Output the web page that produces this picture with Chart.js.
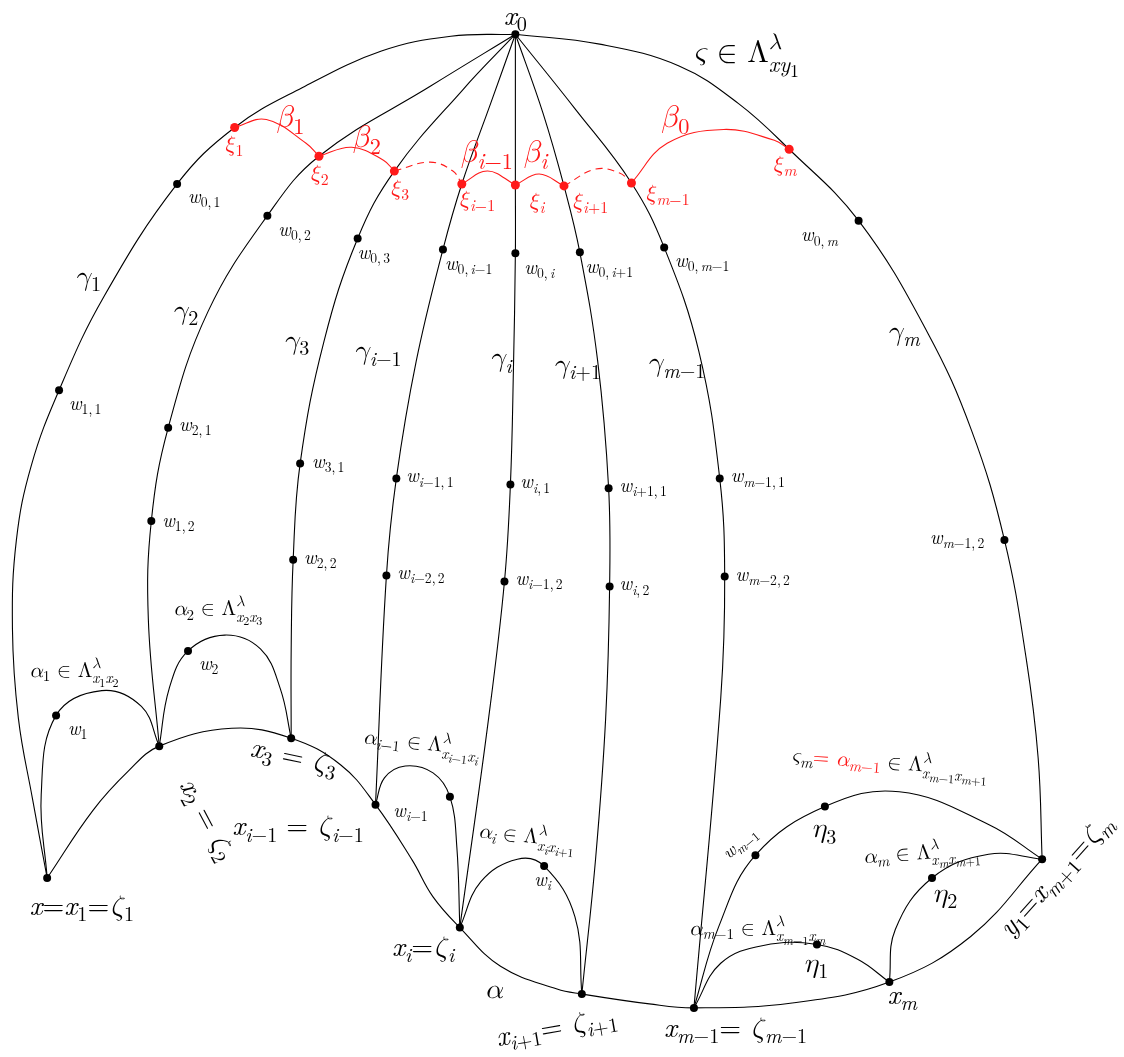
<!DOCTYPE html>
<html>
<head>
<meta charset="utf-8">
<script src="https://cdn.jsdelivr.net/npm/chart.js@4/dist/chart.umd.min.js"></script>
<style>
  html, body { margin: 0; padding: 0; background: #fff; }
  #wrap { width: 1124px; height: 1057px; }
</style>
</head>
<body>
<div id="wrap"><canvas id="diagram" width="1124" height="1057"></canvas></div>
<script>
// all coordinates are in picture units (x to the right, y downward)

// curves from x0 down to the bottom path
const gamma1 = [[43,881],[28,800],[14,720],[8,629],[12,540],[27,465],[55,389],[100,295],[174,181],[232,124],[300,84],[380,47],[450,32],[515,30]];
const gamma2 = [[515,30],[430,82],[317,153],[265,213],[205,310],[165,427],[148,521],[145,620],[156,748]];
const gamma3 = [[515,30],[462,86],[393,168],[356,236],[322,340],[298,463],[291,560],[289,650],[289,740]];
const gammaIm1 = [[515,30],[490,100],[461,181],[442,247],[415,360],[395,478],[385,576],[374,807]];
const gammaI = [[515,30],[515,182],[515,251],[513,370],[510,484],[504,582],[488,720],[459,931]];
const gammaIp1 = [[515,30],[543,110],[564,183],[580,250],[598,360],[609,488],[610,587],[606,720],[596,860],[582,998]];
const gammaMm1 = [[515,30],[575,105],[632,180],[665,245],[700,350],[721,478],[726,577],[722,700],[695,1012]];
const gammaM = [[515,30],[600,40],[680,62],[740,100],[791,146],[861,218],[930,330],[975,430],[1008,540],[1030,660],[1042,760],[1046,862]];

// bottom path alpha
const alphaPath = [[43,881],[89,813],[125,773],[156,748],[229,730],[289,740],[339,767],[374,807],[411,863],[432,900],[459,931],[500,970],[557,993],[582,998],[650,1008],[695,1012],[794,1007],[892,986],[974,940],[1046,862]];

// loops
const alpha1 = [[43,881],[37,797],[52,717],[98,692],[138,708],[156,748]];
const alpha2 = [[156,748],[166,690],[185,652],[222,636],[258,650],[278,690],[289,740]];
const alphaIm1 = [[374,807],[383,780],[404,768],[432,775],[449,799],[456,850],[459,931]];
const alphaI = [[459,931],[480,885],[517,862],[544,869],[575,920],[582,998]];
const alphaMm1 = [[695,1012],[722,967],[765,949],[819,948],[860,963],[892,986]];
const alphaM = [[892,986],[898,933],[935,881],[992,857],[1046,862]];
const varsigmaM = [[695,1012],[720,930],[757,858],[827,809],[902,794],[992,827],[1046,862]];

// red arcs beta
const beta1 = [[232,124],[264,116],[304,140],[317,153]];
const beta2 = [[317,153],[350,144],[382,157],[393,168]];
const betaDash1 = [[393,168],[429,159],[452,168],[461,181]];
const betaIm1 = [[461,181],[487,168],[515,182]];
const betaI = [[515,182],[539,171],[564,183]];
const betaDash2 = [[564,183],[596,166],[620,170],[632,180]];
const beta0 = [[632,180],[668,140],[725,126],[776,137],[791,146]];

// marked points
const blackDots = [[515,30],[43,881],[156,748],[289,740],[374,807],[459,931],[582,998],[695,1012],[892,986],[1046,862],
  [52,717],[185,652],[449,799],[544,869],[757,858],[827,809],[935,881],[819,948],
  [174,181],[55,389],[265,213],[165,427],[148,521],[356,236],[298,463],[291,560],
  [442,247],[395,478],[385,576],[515,251],[510,484],[504,582],[580,250],[609,488],[610,587],
  [665,245],[721,478],[726,577],[861,218],[1008,540]];
const redDots = [[232,124],[317,153],[393,168],[461,181],[515,182],[564,183],[632,180],[791,146]];

// labels: [text, x, y]   (§ toggles red)
const titleLabel = [["ς ∈ Λ^{λ}_{xy_1}",747,58]];
const bigLabels = [["x_0",515,21],["x=x_1=ζ_1",78,918],["x_2 = ζ_2",197,826],["x_3 = ζ_3",290,767],
  ["x_{i−1} = ζ_{i−1}",296,838],["x_i=ζ_i",422,960],["x_{i+1}= ζ_{i+1}",558,1040],["x_{m−1}= ζ_{m−1}",737,1041],
  ["x_m",905,1008],["y_1=x_{m+1}=ζ_m",1066,884],["α",493,1002],["η_1",818,976],["η_2",948,905],["η_3",826,840]];
const gammaLabels = [["γ_1",84,283],["γ_2",182,317],["γ_3",294,347],["γ_{i−1}",376,358],["γ_i",500,365],
  ["γ_{i+1}",577,372],["γ_{m−1}",677,370],["γ_m",906,338]];
const betaLabels = [["β_1",288,124],["β_2",365,144],["β_{i−1}",486,159],["β_i",535,159],["β_0",676,124]];
const xiLabels = [["ξ_1",231,148],["ξ_2",317,177],["ξ_3",398,192],["ξ_{i−1}",476,203],["ξ_i",536,205],
  ["ξ_{i+1}",590,205],["ξ_{m−1}",668,197],["ξ_m",786,168]];
const wLabels = [["w_{0,1}",185,200],["w_{0,2}",276,233],["w_{0,3}",356,257],["w_{0,i−1}",444,268],["w_{0,i}",524,272],
  ["w_{0,i+1}",586,271],["w_{0,m−1}",676,265],["w_{0,m}",803,239],["w_{1,1}",65,409],["w_{2,1}",176,430],
  ["w_{1,2}",159,527],["w_{3,1}",310,467],["w_{2,2}",302,564],["w_{i−1,1}",405,482],["w_{i−2,2}",396,579],
  ["w_{i,1}",520,488],["w_{i−1,2}",515,585],["w_{i+1,1}",620,492],["w_{i,2}",620,591],["w_{m−1,1}",732,482],
  ["w_{m−2,2}",737,581],["w_{m−1,2}",933,544],["w_1",64,737],["w_2",196,671],["w_{i−1}",392,819],["w_i",534,889]];
const alphaLabels = [["α_1 ∈ Λ^{λ}_{x_1x_2}",25,678],["α_2 ∈ Λ^{λ}_{x_2x_3}",170,616],
  ["α_{i−1} ∈ Λ^{λ}_{x_{i−1}x_i}",361,745],["α_i ∈ Λ^{λ}_{x_ix_{i+1}}",477,840],
  ["α_{m−1} ∈ Λ^{λ}_{x_{m−1}x_m}",690,938],["α_m ∈ Λ^{λ}_{x_mx_{m+1}}",866,866],
  ["ς_m§= α_{m−1}§ ∈ Λ^{λ}_{x_{m−1}x_{m+1}}",792,764]];
const tiltedSmall = [["w_{m−1}",745,850]];

// tilt of some labels, degrees
const labelTilt = {"x_2 = ζ_2":62, "x_3 = ζ_3":12, "x_{i+1}= ζ_{i+1}":-10, "y_1=x_{m+1}=ζ_m":-48,
  "α_{i−1} ∈ Λ^{λ}_{x_{i−1}x_i}":6, "α_i ∈ Λ^{λ}_{x_ix_{i+1}}":6, "α_m ∈ Λ^{λ}_{x_mx_{m+1}}":-4,
  "ς_m§= α_{m−1}§ ∈ Λ^{λ}_{x_{m−1}x_{m+1}}":4, "w_{m−1}":-40};

const RED = "#ff1a1a";
const FONT = '"Latin Modern Roman", "Latin Modern Math", "Liberation Serif", serif';

function parseTex(s) {
  const out = [];
  let i = 0;
  while (i < s.length) {
    const c = s[i];
    if (c === "_" || c === "^") {
      i++;
      let grp;
      if (s[i] === "{") {
        let depth = 1, j = i + 1;
        while (j < s.length && depth > 0) {
          if (s[j] === "{") depth++;
          else if (s[j] === "}") depth--;
          j++;
        }
        grp = s.slice(i + 1, j - 1);
        i = j;
      } else {
        grp = s[i];
        i++;
      }
      out.push({ kind: c === "_" ? "sub" : "sup", kids: parseTex(grp) });
    } else {
      out.push({ kind: "ch", c: c });
      i++;
    }
  }
  return out;
}

function texRun(ctx, nodes, x, y, size, state, draw, level) {
  level = level || 0;
  const f = level === 0 ? 0.72 : 0.8;
  let cx = x;
  for (let k = 0; k < nodes.length; k++) {
    const n = nodes[k];
    if (n.kind === "ch") {
      if (n.c === "§") { state.red = !state.red; continue; }
      if (n.c === " ") { cx += size * 0.32; continue; }
      const italic = /[A-Za-z\u03b1-\u03c9\u03c2]/.test(n.c);
      ctx.font = (italic ? "italic " : "normal ") + size.toFixed(1) + "px " + FONT;
      if (draw) {
        ctx.fillStyle = state.red ? RED : state.base;
        ctx.fillText(n.c, cx, y);
      }
      cx += ctx.measureText(n.c).width;
      if (n.c === ",") cx += size * 0.17;
    } else {
      const next = nodes[k + 1];
      if (next && next.kind !== "ch" && next.kind !== n.kind) {
        const sup = n.kind === "sup" ? n : next;
        const sub = n.kind === "sub" ? n : next;
        const w1 = texRun(ctx, sup.kids, cx, y - size * 0.42, size * f, state, draw, level + 1);
        const w2 = texRun(ctx, sub.kids, cx, y + size * 0.32, size * f, state, draw, level + 1);
        cx += Math.max(w1, w2);
        k++;
      } else {
        const dy = n.kind === "sup" ? -size * 0.4 : size * 0.22;
        cx += texRun(ctx, n.kids, cx, y + dy, size * f, state, draw, level + 1);
      }
    }
  }
  return cx - x;
}

function drawTex(ctx, text, px, py, size, align, color) {
  const nodes = parseTex(text);
  const w = texRun(ctx, nodes, 0, 0, size, { red: false, base: color }, false);
  ctx.save();
  ctx.translate(px, py);
  ctx.rotate((labelTilt[text] || 0) * Math.PI / 180);
  ctx.textBaseline = "alphabetic";
  ctx.textAlign = "left";
  texRun(ctx, nodes, align === "left" ? 0 : -w / 2, 0, size, { red: false, base: color }, true);
  ctx.restore();
}

const labelPlugin = {
  id: "texLabels",
  afterDatasetsDraw(chart) {
    const ctx = chart.ctx;
    const sx = chart.scales.x, sy = chart.scales.y;
    const put = (list, size, align, color) => list.forEach(([t, x, y]) =>
      drawTex(ctx, t, sx.getPixelForValue(x), sy.getPixelForValue(y), size, align, color));
    put(titleLabel, 31, "center", "#000");
    put(bigLabels, 28, "center", "#000");
    put(gammaLabels, 28, "center", "#000");
    put(betaLabels, 31, "center", RED);
    put(xiLabels, 22, "center", RED);
    put(wLabels, 19, "left", "#000");
    put(alphaLabels, 21, "left", "#000");
    put(tiltedSmall, 18, "center", "#000");
  }
};

const toXY = arr => arr.map(([x, y]) => ({ x: x, y: y }));

function curve(pts, color, dashed) {
  return {
    data: toXY(pts),
    showLine: true,
    borderColor: color,
    borderWidth: 1.1,
    borderDash: dashed ? [7, 5] : [],
    pointRadius: 0,
    tension: 0.4,
    fill: false
  };
}

function dots(pts, color, r) {
  return {
    data: toXY(pts),
    showLine: false,
    pointRadius: r,
    pointBackgroundColor: color,
    pointBorderColor: color,
    pointBorderWidth: 0
  };
}

const blackCurves = [gamma1, gamma2, gamma3, gammaIm1, gammaI, gammaIp1, gammaMm1, gammaM,
  alphaPath, alpha1, alpha2, alphaIm1, alphaI, alphaMm1, alphaM, varsigmaM];
const redCurves = [beta1, beta2, betaIm1, betaI, beta0];
const redDashed = [betaDash1, betaDash2];

const datasets = [dots(redDots, RED, 4.5), dots(blackDots, "#000", 4)]
  .concat(redCurves.map(c => curve(c, RED, false)))
  .concat(redDashed.map(c => curve(c, RED, true)))
  .concat(blackCurves.map(c => curve(c, "#000", false)));

new Chart(document.getElementById("diagram").getContext("2d"), {
  type: "scatter",
  data: { datasets: datasets },
  options: {
    responsive: false,
    animation: false,
    layout: { padding: 0 },
    scales: {
      x: { type: "linear", min: 0, max: 1124, display: false },
      y: { type: "linear", min: 0, max: 1057, reverse: true, display: false }
    },
    plugins: { legend: { display: false }, tooltip: { enabled: false } },
    elements: { line: { capBezierPoints: false } }
  },
  plugins: [labelPlugin]
});
</script>
</body>
</html>
